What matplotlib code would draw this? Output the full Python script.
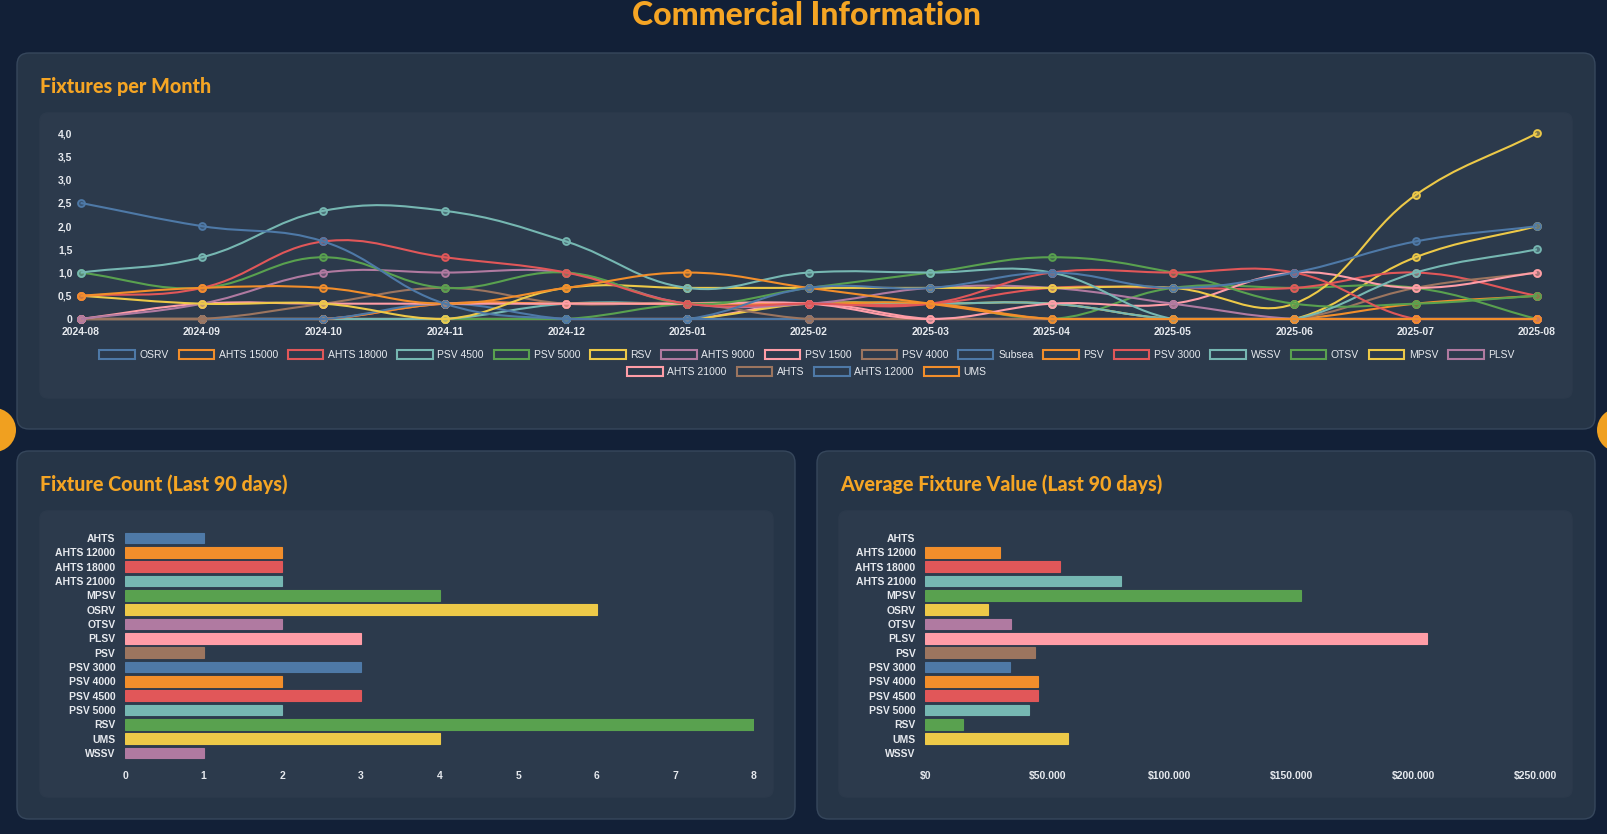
import numpy as np
import matplotlib
matplotlib.use("Agg")
import matplotlib.pyplot as plt
from matplotlib.path import Path
from matplotlib.patches import PathPatch, FancyBboxPatch, Circle, Patch
from matplotlib.colors import to_rgba

# ---- data ----
months = ['2024-08', '2024-09', '2024-10', '2024-11', '2024-12', '2025-01', '2025-02',
          '2025-03', '2025-04', '2025-05', '2025-06', '2025-07', '2025-08']

series_names = ['OSRV', 'AHTS 15000', 'AHTS 18000', 'PSV 4500', 'PSV 5000', 'RSV', 'AHTS 9000',
                'PSV 1500', 'PSV 4000', 'Subsea', 'PSV', 'PSV 3000', 'WSSV', 'OTSV', 'MPSV',
                'PLSV', 'AHTS 21000', 'AHTS', 'AHTS 12000', 'UMS']

osrv = [2.5, 2.0, 1.67, 0.33, 0, 0, 0.67, 0.67, 1.0, 0.67, 1.0, 1.67, 2.0]
ahts_15000 = [0.5, 0.67, 0.67, 0.33, 0.67, 1.0, 0.67, 0.33, 0, 0, 0, 0, 0]
ahts_18000 = [0.5, 0.67, 1.67, 1.33, 1.0, 0.33, 0.33, 0.33, 1.0, 1.0, 1.0, 0, 0]
psv_4500 = [1.0, 1.33, 2.33, 2.33, 1.67, 0.67, 1.0, 1.0, 1.0, 0, 0, 1.0, 1.5]
psv_5000 = [1.0, 0.67, 1.33, 0.67, 1.0, 0.33, 0.67, 1.0, 1.33, 1.0, 0.33, 0.33, 0.5]
rsv = [0.5, 0.33, 0.33, 0, 0.67, 0.67, 0.67, 0.67, 0.67, 0.67, 0.33, 2.67, 4.0]
ahts_9000 = [0, 0.33, 1.0, 1.0, 1.0, 0.33, 0.33, 0.67, 0.67, 0.33, 0, 0, 0]
psv_1500 = [0, 0.33, 0.33, 0.33, 0.33, 0.33, 0.33, 0, 0.33, 0.33, 1.0, 0.67, 1.0]
psv_4000 = [0, 0, 0.33, 0.67, 0.33, 0.33, 0, 0, 0, 0, 0, 0.67, 1.0]
subsea = [0, 0, 0, 0.33, 0, 0, 0, 0, 0, 0, 0, 0, 0]
psv = [0, 0, 0, 0.33, 0.33, 0.33, 0.33, 0.33, 0, 0, 0, 0, 0]
psv_3000 = [0, 0, 0, 0.33, 0.33, 0.33, 0.33, 0.33, 0.67, 0.67, 0.67, 1.0, 0.5]
wssv = [0, 0, 0, 0, 0.33, 0.33, 0.33, 0.33, 0.33, 0, 0, 0, 0]
otsv = [0, 0, 0, 0, 0, 0.33, 0.33, 0.33, 0, 0.67, 0.67, 0.67, 0]
mpsv = [0, 0, 0, 0, 0, 0, 0.33, 0.33, 0.33, 0, 0, 1.33, 2.0]
plsv = [0, 0, 0, 0, 0, 0, 0, 0, 0, 0, 0, 0, 0]
ahts_21000 = [0, 0, 0, 0, 0, 0, 0.33, 0, 0, 0, 0, 0, 0]
ahts = [0, 0, 0, 0, 0, 0, 0, 0, 0, 0, 0, 0, 0]
ahts_12000 = [0, 0, 0, 0, 0, 0, 0, 0, 0, 0, 0, 0, 0]
ums = [0, 0, 0, 0, 0, 0, 0, 0, 0, 0, 0, 0.33, 0.5]

series_values = [osrv, ahts_15000, ahts_18000, psv_4500, psv_5000, rsv, ahts_9000, psv_1500,
                 psv_4000, subsea, psv, psv_3000, wssv, otsv, mpsv, plsv, ahts_21000, ahts,
                 ahts_12000, ums]

bar_types = ['AHTS', 'AHTS 12000', 'AHTS 18000', 'AHTS 21000', 'MPSV', 'OSRV', 'OTSV', 'PLSV',
             'PSV', 'PSV 3000', 'PSV 4000', 'PSV 4500', 'PSV 5000', 'RSV', 'UMS', 'WSSV']
fixture_count = [1, 2, 2, 2, 4, 6, 2, 3, 1, 3, 2, 3, 2, 8, 4, 1]
avg_value = [0, 30500, 55000, 80000, 154000, 25700, 35000, 205600, 45000, 34600, 46300,
             46300, 42500, 15500, 58400, 0]

palette = ['#4e79a7', '#f28e2b', '#e15759', '#76b7b2', '#59a14f',
           '#edc948', '#b07aa1', '#ff9da7', '#9c755f']

# ---- style ----
page_bg = '#122037'
panel_bg = '#263547'
panel_edge = '#36475c'
inner_bg = '#2c3a4c'
accent = '#f5a524'
txt = '#e6e9ee'
head_font = ['Lato', 'DejaVu Sans']
tick_font = ['Liberation Sans', 'DejaVu Sans']

W, H = 1607, 834
fig = plt.figure(figsize=(W / 100, H / 100), dpi=100)
fig.patch.set_facecolor(page_bg)


def fa(x0, y0, x1, y1):
    # pixel box (top-left origin) -> figure fraction rect
    return [x0 / W, 1 - y1 / H, (x1 - x0) / W, (y1 - y0) / H]


# background layer in pixel coordinates
bg = fig.add_axes([0, 0, 1, 1])
bg.set_xlim(0, W)
bg.set_ylim(H, 0)
bg.axis('off')
bg.set_zorder(-10)


def rbox(x0, y0, x1, y1, r, fc, ec=None, lw=1):
    bg.add_patch(FancyBboxPatch((x0 + r, y0 + r), x1 - x0 - 2 * r, y1 - y0 - 2 * r,
                                boxstyle=f'round,pad={r}', fc=fc, ec=ec or fc, lw=lw))


rbox(17, 53, 1595, 429, 12, panel_bg, panel_edge)
rbox(40, 113, 1572, 398, 8, inner_bg)
rbox(17, 451, 795, 819, 12, panel_bg, panel_edge)
rbox(40, 511, 773, 797, 8, inner_bg)
rbox(817, 451, 1595, 819, 12, panel_bg, panel_edge)
rbox(839, 511, 1572, 797, 8, inner_bg)
bg.add_patch(Circle((-6, 430), 22, fc='#f0a020', ec='none'))
bg.add_patch(Circle((1619, 430), 22, fc='#f0a020', ec='none'))

bg.text(806, 15, 'Commercial Information', ha='center', va='center', color=accent,
        fontsize=23, fontweight='black', family=head_font)
for x, y, s in [(40, 86, 'Fixtures per Month'), (40, 484, 'Fixture Count (Last 90 days)'),
                (840, 484, 'Average Fixture Value (Last 90 days)')]:
    bg.text(x, y, s, ha='left', va='center', color=accent, fontsize=14.2, fontweight='black',
            family=head_font)


# ---- line chart ----
def smooth_path(xs, ys, t=0.4, sx=121.4, sy=46.4, ymax=4.0, xmax=12.0):
    px = np.asarray(xs, float) * sx
    py = np.asarray(ys, float) * sy
    n = len(px)
    prev_cp, next_cp = [], []
    for i in range(n):
        a = max(i - 1, 0)
        b = min(i + 1, n - 1)
        d01 = np.hypot(px[i] - px[a], py[i] - py[a])
        d12 = np.hypot(px[b] - px[i], py[b] - py[i])
        tot = d01 + d12
        s01 = d01 / tot if tot else 0
        s12 = d12 / tot if tot else 0
        dx, dy = px[b] - px[a], py[b] - py[a]
        prev_cp.append((px[i] - t * s01 * dx, py[i] - t * s01 * dy))
        next_cp.append((px[i] + t * s12 * dx, py[i] + t * s12 * dy))

    def cl(p):
        return (min(max(p[0], 0), xmax * sx) / sx, min(max(p[1], 0), ymax * sy) / sy)

    verts = [(xs[0], ys[0])]
    codes = [Path.MOVETO]
    for i in range(n - 1):
        verts += [cl(next_cp[i]), cl(prev_cp[i + 1]), (xs[i + 1], ys[i + 1])]
        codes += [Path.CURVE4] * 3
    return Path(verts, codes)


ax = fig.add_axes(fa(80.7, 133.3, 1537, 319))
ax.set_facecolor('none')
xs = np.arange(len(months))
nser = len(series_names)
for i, (name, vals) in enumerate(zip(series_names, series_values)):
    c = palette[i % len(palette)]
    z = 3 + (nser - i) * 2
    ax.add_patch(PathPatch(smooth_path(xs, vals), fc='none', ec=c, lw=1.5, zorder=z,
                           clip_on=False))
    ax.plot(xs, vals, 'o', ms=5, mfc=to_rgba(c, 0.45), mec=c, mew=1.3, zorder=z + 1,
            clip_on=False)
ax.set_xlim(0, len(months) - 1)
ax.set_ylim(0, 4)
ax.set_xticks(xs)
ax.set_xticklabels(months)
yt = np.arange(0, 4.01, 0.5)
ax.set_yticks(yt)
ax.set_yticklabels(['0' if v == 0 else f'{v:.1f}'.replace('.', ',') for v in yt])
for s in ax.spines.values():
    s.set_visible(False)
ax.tick_params(length=0, colors=txt, labelsize=7.5, pad=6)
for lab in ax.get_xticklabels() + ax.get_yticklabels():
    lab.set_family(tick_font)
    lab.set_fontweight('bold')

handles = [Patch(fc='none', ec=palette[i % len(palette)], lw=1.5, label=n)
           for i, n in enumerate(series_names)]
leg_kw = dict(loc='center', frameon=False, handlelength=3.4, handleheight=1.0,
              handletextpad=0.45, columnspacing=0.95, labelcolor=txt,
              prop={'family': tick_font, 'size': 7.5})
fig.legend(handles=handles[:16], ncol=16, bbox_to_anchor=(807 / W, 1 - 355 / H), **leg_kw)
fig.legend(handles=handles[16:], ncol=4, bbox_to_anchor=(807 / W, 1 - 372 / H), **leg_kw)


# ---- bar charts ----
def bar_panel(rect, values, xmax, ticks, ticklabels):
    b = fig.add_axes(rect)
    b.set_facecolor('none')
    cols = [palette[i % len(palette)] for i in range(len(bar_types))]
    lws = [0.8 if v else 0 for v in values]
    b.barh(np.arange(len(bar_types)), values, height=0.74, color=cols, edgecolor=cols,
           linewidth=lws)
    b.set_ylim(len(bar_types) - 0.5, -0.5)
    b.set_xlim(0, xmax)
    b.set_yticks(np.arange(len(bar_types)))
    b.set_yticklabels(bar_types)
    b.set_xticks(ticks)
    b.set_xticklabels(ticklabels)
    for s in b.spines.values():
        s.set_visible(False)
    b.tick_params(axis='y', length=0, colors=txt, labelsize=7.5, pad=7)
    b.tick_params(axis='x', length=0, colors=txt, labelsize=7.5, pad=8)
    for lab in b.get_xticklabels() + b.get_yticklabels():
        lab.set_family(tick_font)
        lab.set_fontweight('bold')
    return b


bar_panel(fa(125, 530.8, 754, 760.2), fixture_count, 8, range(0, 9), [str(v) for v in range(9)])
vt = list(range(0, 250001, 50000))
bar_panel(fa(925.3, 530.8, 1535.3, 760.2), avg_value, 250000, vt,
          ['$' + f'{v:,}'.replace(',', '.') for v in vt])

fig.savefig('out.png', dpi=100, facecolor=page_bg)
